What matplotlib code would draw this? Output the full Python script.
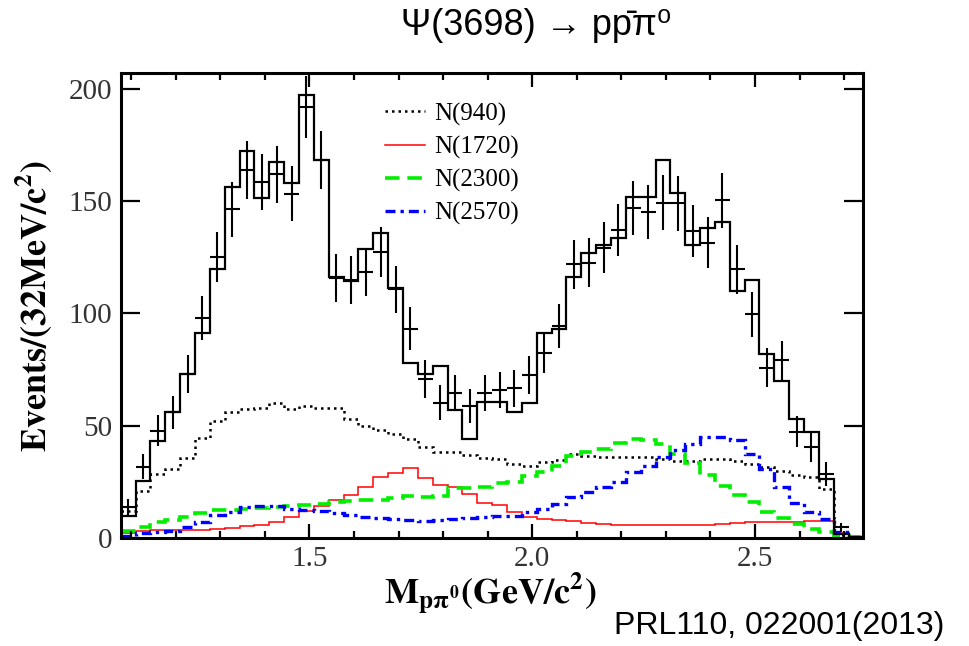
import numpy as np
import matplotlib
matplotlib.use("Agg")
import matplotlib.pyplot as plt
from matplotlib.lines import Line2D
from matplotlib.ticker import MultipleLocator

plt.rcParams["mathtext.fontset"] = "stix"

# 50 bins over the kinematic range of M(p pi0)
x_lo, x_hi, n_bins = 1.0765, 2.7435, 50

# Data (events per bin)
data = [13.5, 31.6, 47.6, 55.8, 72.8, 98, 125, 146.3, 164, 158.6,
        162, 153.4, 192, 168.5, 115.9, 114.8, 118.4, 127.4, 110.7, 93.2,
        70.9, 60.2, 64.4, 58.8, 64.4, 65.9, 66.5, 72.4, 82.5, 94.4,
        121.8, 122.6, 129.2, 137.1, 147, 145.1, 149.3, 149, 136.6, 131.5,
        150.4, 119.6, 99.6, 75.8, 79, 47.2, 40.2, 28.6, 4.6, 0]

# Total fit
fit = [9.8, 25.4, 42.9, 56.1, 72.8, 91.1, 119.6, 156.2, 172.3, 151.2,
       167.4, 158.2, 197.5, 168.5, 116.2, 114.4, 128.9, 135.9, 111.4, 77.7,
       72.8, 76.6, 56.8, 44.2, 60.5, 60.5, 56.1, 60.2, 91.1, 93.2,
       116.3, 127, 130.3, 133.7, 152, 152, 168.5, 153.7, 130.3, 138.1,
       140.8, 109.9, 114.8, 81.8, 69.9, 53.1, 47.2, 26.1, 1.6, 0.3]

# Components
n940 = [12, 20.9, 28.3, 30.6, 35.5, 44.4, 52.1, 55.8, 57.3, 58,
        60.2, 57.3, 58.8, 58, 57.6, 52.8, 49.9, 48.1, 46.1, 44.2,
        40.5, 38, 38.3, 36.8, 35.5, 35, 32.8, 32, 33.8, 34.6,
        37.2, 36.5, 36, 36, 35.8, 35.8, 35, 34.3, 34.3, 35,
        35, 34.3, 32.8, 31.3, 29.8, 27.9, 26.9, 21.7, 1, 0]
n1720 = [2, 3, 3.5, 3.5, 3.5, 3.5, 3.8, 4.2, 5, 5.7,
         7.1, 9.4, 11.8, 14, 16.8, 19, 22.5, 27, 29, 31,
         26.7, 23.7, 22.4, 19.5, 15.5, 14.5, 11.5, 9.3, 8.5, 7.8,
         7.3, 6.5, 6, 5.6, 5.6, 5.6, 5.6, 5.6, 5.6, 5.6,
         6, 6.5, 7, 7.1, 7.1, 7.1, 7.5, 7.5, 2, 0.5]
n2300 = [3.1, 4.9, 7.1, 7.9, 9.3, 10.8, 12.3, 12.5, 12.8, 13.2,
         13.8, 13.9, 14.5, 15, 15.7, 16.5, 16.8, 16.8, 17.5, 18.7,
         18.2, 18.7, 22, 22, 22.8, 24.3, 24.9, 27.6, 29.4, 32,
         36.5, 38, 39.5, 42, 43.9, 43.5, 41.7, 37.2, 33.2, 28,
         23.1, 19, 15.7, 11.6, 8.6, 6.1, 3.9, 2.4, 0.9, 0.2]
n2570 = [0.9, 2, 2.4, 3, 4.6, 6.8, 10, 11.3, 13.5, 14.2,
         14.2, 13, 12.5, 12, 11, 10, 9, 8.6, 8.3, 7.9,
         7.6, 8, 8.3, 8.6, 9, 9.5, 9.8, 11.6, 13, 15,
         18, 20.2, 22.4, 24.6, 29.1, 32, 35.8, 39.2, 41.7, 44.7,
         44.7, 43.6, 37.2, 30.6, 22.8, 15.4, 11.3, 8.3, 2.4, 0.5]

labels = ["N(940)", "N(1720)", "N(2300)", "N(2570)"]

edges = np.linspace(x_lo, x_hi, n_bins + 1)
centers = 0.5 * (edges[1:] + edges[:-1])
half_w = 0.5 * (edges[1] - edges[0])

fig = plt.figure(figsize=(9.7, 6.46), dpi=100)
ax = fig.add_axes([0.1244, 0.1677, 0.7658, 0.7188])

# component histograms
styles = [dict(color="black", lw=1.8, ls=(0, (1, 1.6))),
          dict(color="red", lw=1.1, ls="-"),
          dict(color="#00ee00", lw=2.6, ls=(0, (4, 2.2))),
          dict(color="blue", lw=2.4, ls=(0, (3, 1.5, 1, 1.5)))]
for vals, st in zip([n940, n1720, n2300, n2570], styles):
    ax.stairs(vals, edges, baseline=None, **st)

# total fit
ax.stairs(fit, edges, baseline=None, color="black", lw=1.6)

# data with sqrt(N) errors
d = np.array(data)
ax.errorbar(centers, d, xerr=half_w, yerr=np.sqrt(d), fmt="none",
            ecolor="black", elinewidth=1.5, capsize=0)

ax.set_xlim(x_lo, x_hi)
ax.set_ylim(0, 207)

ax.xaxis.set_major_locator(MultipleLocator(0.5))
ax.xaxis.set_minor_locator(MultipleLocator(0.1))
ax.yaxis.set_major_locator(MultipleLocator(50))
ax.tick_params(which="both", direction="in", top=True, right=True,
               width=1.6, colors="black", labelcolor="#333333")
ax.tick_params(axis="x", which="major", length=10, pad=6)
ax.tick_params(axis="x", which="minor", length=5)
ax.tick_params(axis="y", which="major", length=14, pad=6)
for lab in ax.get_xticklabels() + ax.get_yticklabels():
    lab.set_fontfamily("Liberation Serif")
    lab.set_fontsize(21)
for sp in ax.spines.values():
    sp.set_linewidth(2.2)

ax.set_ylabel(r"$\mathbf{Events/(32MeV/c^2)}$", fontsize=26)
ax.yaxis.set_label_coords(-0.09, 0.5)
ax.set_xlabel(r"$\mathbf{M_{p\pi^0}(GeV/c^2)}$", fontsize=26)
ax.xaxis.set_label_coords(0.497, -0.072)

handles = [Line2D([], [], **st) for st in styles]
ax.legend(handles, labels, loc="upper left", bbox_to_anchor=(0.356, 0.937),
          frameon=False, borderpad=0, borderaxespad=0, handlelength=1.6,
          handletextpad=0.35, labelspacing=0.40,
          prop={"family": "Liberation Serif", "size": 18})

fig.text(0.553, 0.961, "Ψ(3698) → pp̄π⁰", ha="center", va="center",
         fontsize=26, family=["Liberation Sans", "DejaVu Sans"])
fig.text(0.974, 0.031, "PRL110, 022001(2013)", ha="right", va="center",
         fontsize=23, family=["Liberation Sans", "DejaVu Sans"])

fig.savefig("out.png", dpi=100)
